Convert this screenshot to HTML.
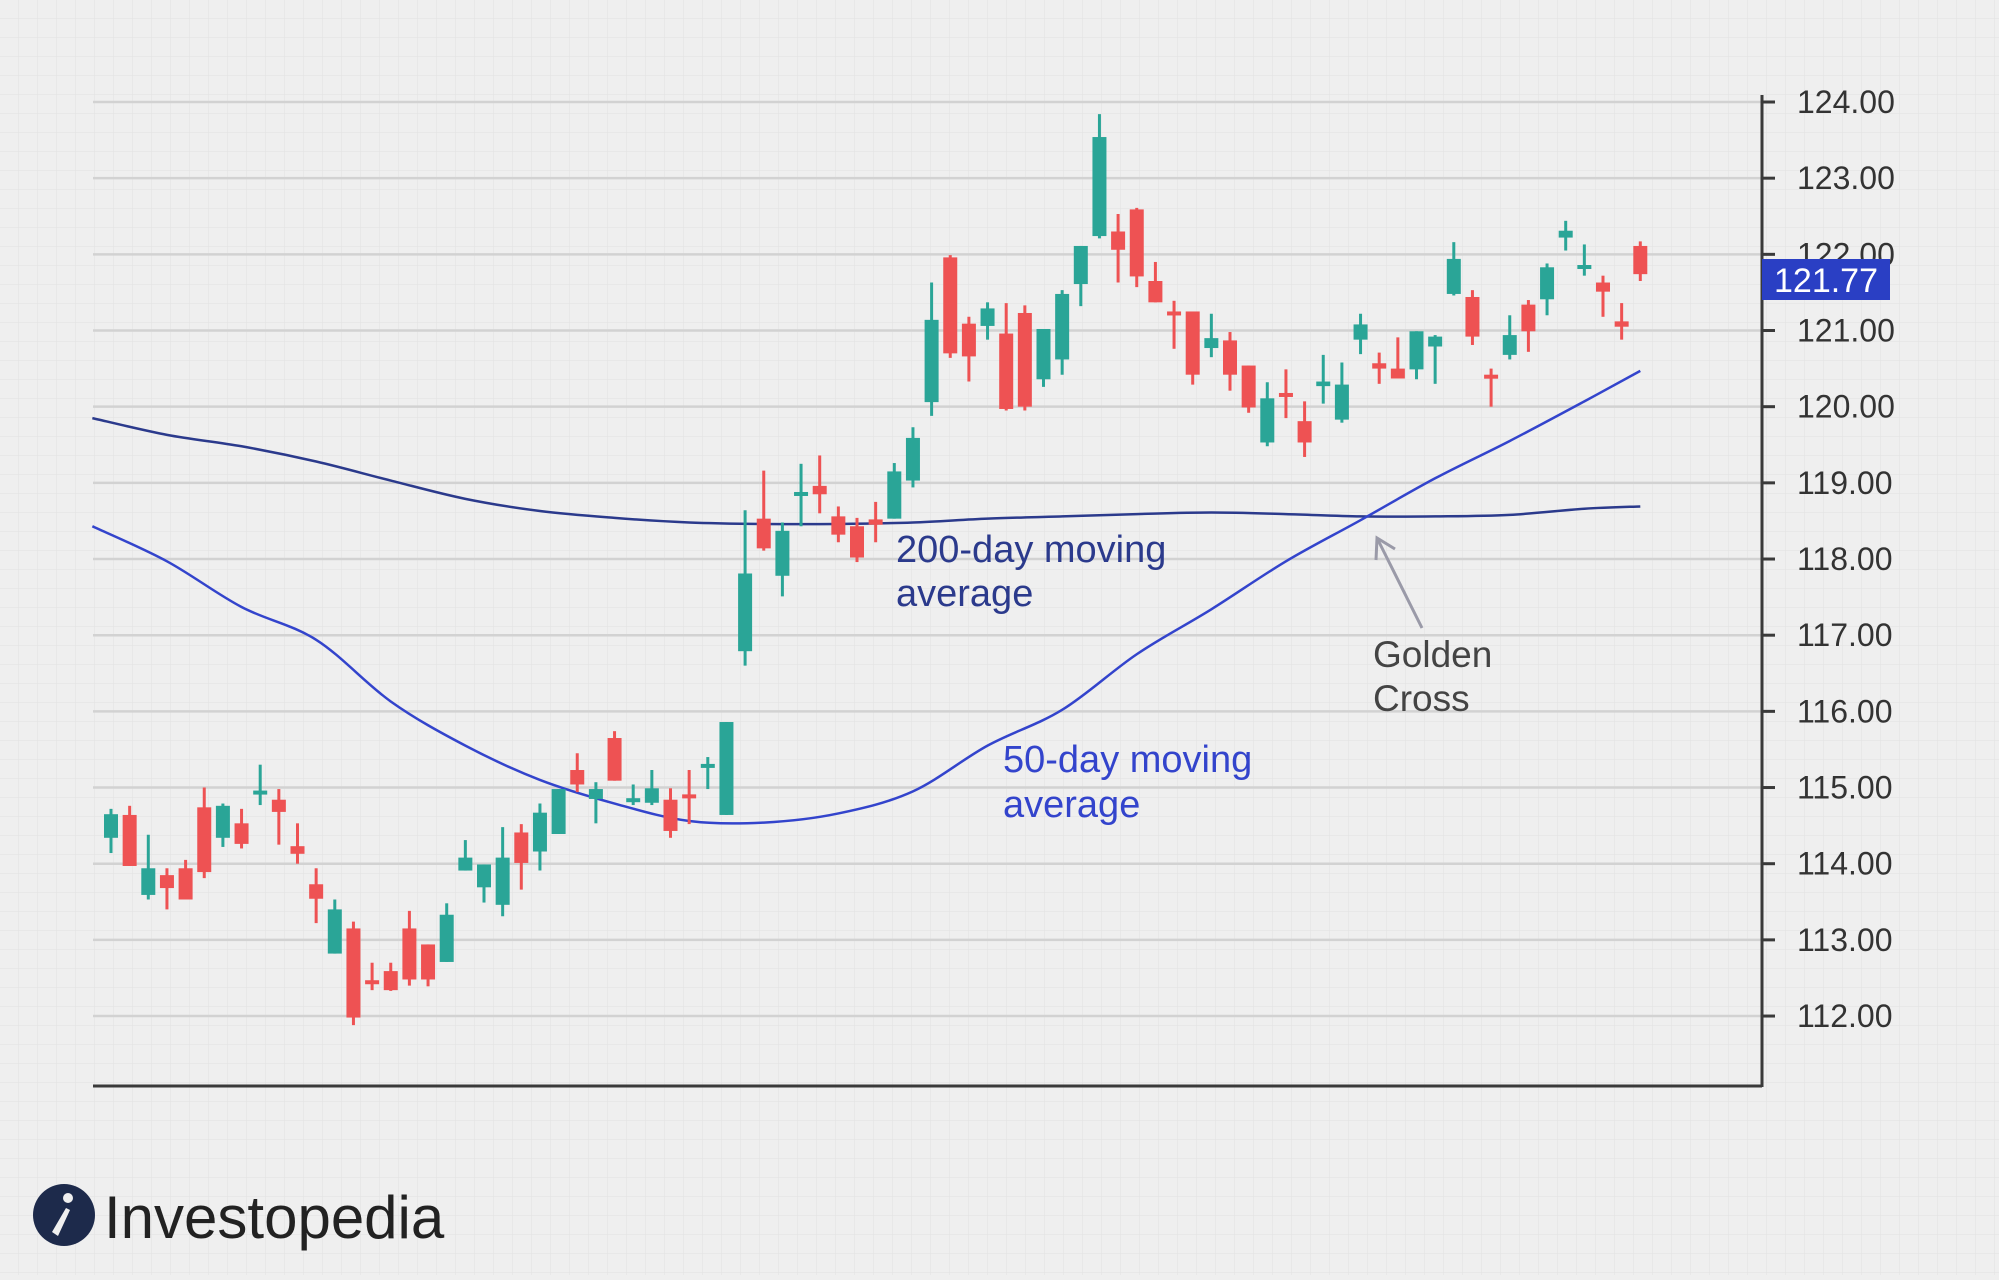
<!DOCTYPE html>
<html><head><meta charset="utf-8"><style>
html,body{margin:0;padding:0;background:#efefef;}
body{width:1999px;height:1275px;overflow:hidden;font-family:"Liberation Sans",sans-serif;}
</style></head><body>
<svg id="chart" width="1999" height="1275" viewBox="0 0 1999 1275" xmlns="http://www.w3.org/2000/svg">
<defs>
<pattern id="fine" width="19" height="19" patternUnits="userSpaceOnUse">
<path d="M19 0V19M0 19H19" fill="none" stroke="#e2e2e2" stroke-width="1"/>
</pattern>
</defs>
<rect width="1999" height="1275" fill="#efefef"/>
<rect width="1999" height="1275" fill="url(#fine)"/>
<g id="grid"></g>
<g id="ma"></g>
<g id="candles"></g>
<g id="axis"></g>
<line x1="93" y1="1086" x2="1762" y2="1086" stroke="#3a3a3a" stroke-width="3"/>
<line x1="1762" y1="95" x2="1762" y2="1087" stroke="#3a3a3a" stroke-width="3"/>
<g>
<rect x="1762" y="259" width="128" height="41" fill="#2a3fc4"/>
<text x="1826" y="292" text-anchor="middle" font-size="34" fill="#fff" font-family="Liberation Sans, sans-serif">121.77</text>
</g>
<g font-size="38" fill="#2b3a8c">
<text x="896" y="562">200-day moving</text>
<text x="896" y="606">average</text>
</g>
<g font-size="38" fill="#3344cc">
<text x="1003" y="772">50-day moving</text>
<text x="1003" y="817">average</text>
</g>
<g font-size="37" fill="#444">
<text x="1373" y="667">Golden</text>
<text x="1373" y="711">Cross</text>
</g>
<g stroke="#9a9aa8" stroke-width="3" fill="none">
<line x1="1422" y1="628" x2="1378" y2="540"/>
<polyline points="1376,560 1377,538 1395,549"/>
</g>
<g>
<circle cx="64" cy="1215" r="31" fill="#1d2a4b"/>
<circle cx="68" cy="1198" r="5" fill="#efefef"/>
<path d="M52 1232 L66 1208 L70 1210 L58 1236 Z" fill="#efefef"/>
<text x="104" y="1238" font-size="60" fill="#222">Investopedia</text>
</g>
</svg>
<script>
const opens=[114.34,114.64,113.59,113.85,113.94,114.74,114.34,114.53,114.91,114.84,114.23,113.73,112.82,113.15,112.47,112.59,113.15,112.94,112.71,113.91,113.69,113.46,114.41,114.16,114.39,115.23,114.85,115.65,114.82,114.80,114.84,114.91,115.27,114.64,
116.79,118.53,117.78,118.85,118.96,118.56,118.43,118.52,118.53,119.03,
120.06,121.96,121.09,121.06,120.96,121.23,120.36,120.62,121.61,122.24,122.30,122.59,121.65,121.25,121.25,120.77,120.87,120.54,119.53,120.18,
119.81,120.27,119.83,120.88,120.57,120.50,120.49,120.79,121.48,121.44,120.42,120.68,121.34,121.41,122.22,121.83,121.63,121.12,122.11];
const closes=[114.65,113.97,113.94,113.68,113.53,113.89,114.76,114.26,114.96,114.68,114.13,113.54,113.40,111.98,112.42,112.34,112.48,112.48,113.33,114.08,113.99,114.08,114.01,114.67,114.98,115.04,114.98,115.09,114.86,114.99,114.43,114.87,115.31,115.86,
117.81,118.14,118.37,118.88,118.85,118.32,118.02,118.45,119.15,119.59,
121.14,120.70,120.66,121.29,119.97,120.00,121.02,121.48,122.11,123.54,122.06,121.71,121.37,121.20,120.42,120.90,120.42,119.99,120.11,120.14,
119.53,120.33,120.29,121.08,120.50,120.37,120.99,120.92,121.94,120.92,120.37,120.94,120.99,121.83,122.31,121.86,121.51,121.05,121.74];
const highs=[114.72,114.76,114.38,113.94,114.05,115.00,114.79,114.72,115.30,114.98,114.53,113.94,113.53,113.24,112.70,112.70,113.38,112.94,113.48,114.31,113.99,114.48,114.52,114.79,114.98,115.45,115.07,115.74,115.04,115.23,114.99,115.23,115.40,115.86,
118.64,119.16,118.48,119.25,119.36,118.69,118.54,118.75,119.26,119.73,
121.63,121.99,121.18,121.37,121.36,121.33,121.02,121.53,122.11,123.84,122.53,122.61,121.90,121.39,121.25,121.22,120.98,120.54,120.32,120.49,
120.07,120.68,120.58,121.22,120.71,120.91,120.99,120.94,122.16,121.53,120.50,121.20,121.40,121.88,122.44,122.13,121.72,121.36,122.17];
const lows=[114.14,113.97,113.53,113.40,113.53,113.81,114.22,114.20,114.77,114.25,114.00,113.22,112.82,111.88,112.34,112.33,112.40,112.39,112.71,113.91,113.49,113.31,113.66,113.91,114.39,114.94,114.53,115.09,114.77,114.77,114.34,114.52,114.98,114.64,
116.60,118.11,117.51,118.43,118.60,118.22,117.96,118.22,118.53,118.94,
119.88,120.64,120.33,120.88,119.95,119.95,120.26,120.42,121.32,122.21,121.63,121.57,121.37,120.76,120.29,120.65,120.21,119.92,119.48,119.85,
119.34,120.04,119.79,120.69,120.30,120.37,120.36,120.30,121.46,120.81,120.00,120.62,120.72,121.20,122.05,121.72,121.18,120.88,121.65];
const maIndex=[-1,3,7,11,15,19,23,27,31,35,39,43,47,51,55,59,63,67,71,75,79,82];
const ma200=[119.85,119.63,119.48,119.28,119.03,118.79,118.63,118.54,118.48,118.46,118.46,118.48,118.53,118.56,118.59,118.61,118.59,118.56,118.56,118.58,118.66,118.69];
const ma50=[118.43,117.97,117.37,116.94,116.13,115.55,115.10,114.79,114.56,114.54,114.66,114.95,115.55,116.02,116.75,117.34,117.97,118.51,119.06,119.55,120.07,120.47];
const ticks=[124,123,122,121,120,119,118,117,116,115,114,113,112];
const tickLabels=["124.00","123.00","122.00","121.00","120.00","119.00","118.00","117.00","116.00","115.00","114.00","113.00","112.00"];

const NS="http://www.w3.org/2000/svg";
function yS(p){return 102+(124-p)*76.17;}
function xS(i){return 111+i*18.65;}
function mk(tag,attrs,parent){const e=document.createElementNS(NS,tag);for(const k in attrs)e.setAttribute(k,attrs[k]);parent.appendChild(e);return e;}

const grid=document.getElementById('grid'),axis=document.getElementById('axis');
ticks.forEach((t,k)=>{
  const g=mk('line',{x1:93,x2:1762,y1:yS(t),y2:yS(t),stroke:'#d2d2d2','stroke-width':2.5},grid);
  
  
  const tk=mk('line',{x1:1762,x2:1775,y1:yS(t),y2:yS(t),stroke:'#3a3a3a','stroke-width':3},axis);
  
  
  const tx=mk('text',{x:1797,y:yS(t)+11,'font-size':32,fill:'#333'},axis);
  tx.textContent=tickLabels[k];
  
  
});

const ma=document.getElementById('ma');
function smooth(vals){
  const pts=vals.map((v,k)=>[xS(maIndex[k]),yS(v)]);
  let d='M'+pts[0][0]+' '+pts[0][1];
  for(let k=0;k<pts.length-1;k++){
    const p0=pts[k-1]||pts[k],p1=pts[k],p2=pts[k+1],p3=pts[k+2]||p2;
    const c1=[p1[0]+(p2[0]-p0[0])/6,p1[1]+(p2[1]-p0[1])/6];
    const c2=[p2[0]-(p3[0]-p1[0])/6,p2[1]-(p3[1]-p1[1])/6];
    d+=' C'+c1[0]+' '+c1[1]+' '+c2[0]+' '+c2[1]+' '+p2[0]+' '+p2[1];
  }
  return d;
}
const l200=mk('path',{d:smooth(ma200),fill:'none',stroke:'#2b3a8c','stroke-width':2.5},ma);


const l50=mk('path',{d:smooth(ma50),fill:'none',stroke:'#3344cc','stroke-width':2.5},ma);



const cg=document.getElementById('candles');
opens.forEach((o,i)=>{
  const c=closes[i],up=c>=o,col=up?'#2aa597':'#ee5253';
  const g=mk('g',{},cg);
  
  
  const x=xS(i);
  mk('line',{x1:x,x2:x,y1:yS(highs[i]),y2:yS(lows[i]),stroke:col,'stroke-width':3},g);
  const top=yS(Math.max(o,c)),bot=yS(Math.min(o,c));
  mk('rect',{x:x-7,y:top,width:14,height:Math.max(bot-top,4),fill:col},g);
});
</script>
</body></html>
